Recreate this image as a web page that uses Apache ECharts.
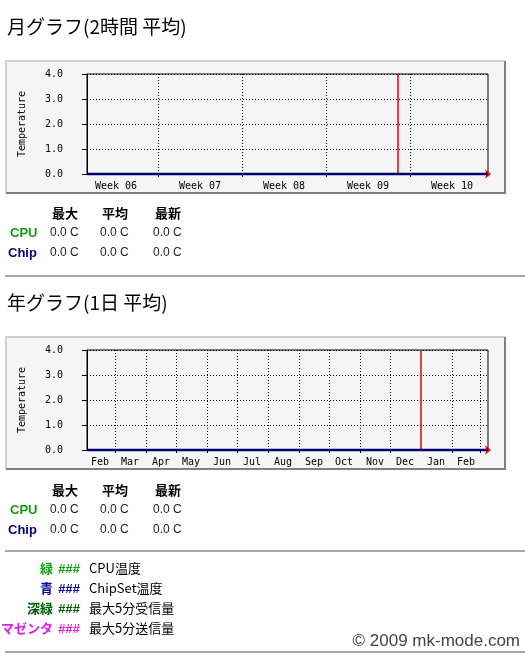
<!DOCTYPE html>
<html><head><meta charset="utf-8">
<script src="https://cdn.jsdelivr.net/npm/echarts@6/dist/echarts.min.js"></script>
<style>html,body{margin:0;padding:0;background:#fff}#c{width:525px;height:655px}</style>
</head><body><div id="c"></div><script>
// ---- data ----
const monthTitle = '月グラフ(2時間 平均)';
const yearTitle = '年グラフ(1日 平均)';
const yName = 'Temperature';
const yMin = 0, yMax = 4, yStep = 1;

// monthly graph: x in hours relative to the red (month start) line
const monthRange = [-622, 180];
const weekBoundaries = [-480, -312, -144, 24];
const weekLabelPos = [-564, -396, -228, -60, 108];
const weekLabels = ['Week 06', 'Week 07', 'Week 08', 'Week 09', 'Week 10'];
const monthRedLine = 0;
const monthTimes = [-622, -480, -312, -144, 0, 180];
const cpuMonth = [0.0, 0.0, 0.0, 0.0, 0.0, 0.0];
const chipMonth = [0.0, 0.0, 0.0, 0.0, 0.0, 0.0];

// yearly graph: x in days relative to the red (year start) line
const yearRange = [-334, 67];
const monthBoundaries = [-306, -275, -245, -214, -184, -153, -122, -92, -61, -31, 31, 59];
const monthLabelPos = [-321, -291, -260, -230, -199, -169, -138, -107, -77, -46, -16, 15, 45];
const monthLabels = ['Feb', 'Mar', 'Apr', 'May', 'Jun', 'Jul', 'Aug', 'Sep', 'Oct', 'Nov', 'Dec', 'Jan', 'Feb'];
const yearRedLine = 0;
const yearDays = [-334, -184, -31, 0, 67];
const cpuYear = [0.0, 0.0, 0.0, 0.0, 0.0];
const chipYear = [0.0, 0.0, 0.0, 0.0, 0.0];

// stats tables
const statHeaders = ['最大', '平均', '最新'];
const statRows = ['CPU', 'Chip'];
const monthStats = [['0.0 C', '0.0 C', '0.0 C'], ['0.0 C', '0.0 C', '0.0 C']];
const yearStats = [['0.0 C', '0.0 C', '0.0 C'], ['0.0 C', '0.0 C', '0.0 C']];

// colour legend
const legendNames = ['緑', '青', '深緑', 'マゼンタ'];
const legendDescs = ['CPU温度', 'ChipSet温度', '最大5分受信量', '最大5分送信量'];
const copyright = '© 2009 mk-mode.com';

// ---- styles ----
const cpuColor = '#109a10';
const chipColor = '#000070';
const legendColors = ['#10a010', '#0000a0', '#006000', '#e020e0'];
const rowColors = [cpuColor, '#000080'];
const mono = 'DejaVu Sans Mono';
const jp = '"Noto Sans CJK JP"';
const sans = '"Liberation Sans", Arial';

const chart = echarts.init(document.getElementById('c'), null, {renderer: 'canvas'});

function pairs(xs, ys) { return xs.map((x, i) => [x, ys[i]]); }

function xAxisFor(gi, range, ticks, labelPos, labels) {
  return {
    type: 'value', gridIndex: gi, min: range[0], max: range[1],
    axisLine: {show: true, onZero: false, lineStyle: {color: '#ff0000', width: 1},
      symbol: ['none', 'arrow'], symbolSize: [7, 6], symbolOffset: [0, 3]},
    axisTick: {show: true, length: 3, customValues: ticks, lineStyle: {color: '#000'}},
    axisLabel: {show: true, customValues: labelPos, margin: 7,
      fontFamily: mono, fontSize: 10, color: '#000',
      formatter: v => labels[labelPos.indexOf(v)] || ''},
    splitLine: {show: true, lineStyle: {color: '#000', type: [1, 2], width: 1}}
  };
}
function yAxisFor(gi) {
  return {
    type: 'value', gridIndex: gi, min: yMin, max: yMax, interval: yStep, position: 'left',
    name: yName, nameLocation: 'middle', nameRotate: 90, nameGap: 60,
    nameTextStyle: {fontFamily: mono, fontSize: 10, color: '#000'},
    axisLine: {show: true, onZero: false, lineStyle: {color: '#000'}},
    axisTick: {show: true, length: 5, lineStyle: {color: '#000'}},
    axisLabel: {margin: 24, fontFamily: mono, fontSize: 10, color: '#000',
      formatter: v => v.toFixed(1)},
    splitLine: {show: true, lineStyle: {color: '#000', type: [1, 2], width: 1}}
  };
}
function seriesFor(ai, xs, cpu, chip, red) {
  return [{
    type: 'line', xAxisIndex: ai, yAxisIndex: ai, data: [[red, yMin], [red, yMax]],
    showSymbol: false, clip: false, silent: true, lineStyle: {color: '#ee0000', width: 1.5}, z: 5
  }, {
    type: 'line', xAxisIndex: ai, yAxisIndex: ai, data: pairs(xs, cpu),
    showSymbol: false, clip: false, lineStyle: {color: cpuColor, width: 2}, z: 6
  }, {
    type: 'line', xAxisIndex: ai, yAxisIndex: ai, data: pairs(xs, chip),
    showSymbol: false, clip: false, lineStyle: {color: chipColor, width: 2.5}, z: 7
  }];
}

const g = [];
function txt(text, x, y, font, fill, align) {
  g.push({type: 'text', z: 10, style: {text, x, y, font, fill,
    textAlign: align || 'left', align: align || 'left',
    textVerticalAlign: 'middle', verticalAlign: 'middle'}});
}
function hr(y) {
  g.push({type: 'rect', z: 1, shape: {x: 5, y: y, width: 520, height: 2}, style: {fill: '#a8a8a8'}});
}
function box(top) {
  const l = 5, r = 505, b = top + 133;
  g.push({type: 'rect', z: -5, shape: {x: l, y: top, width: r - l, height: b - top}, style: {fill: '#f5f5f5'}});
  g.push({type: 'polyline', z: -4, shape: {points: [[l + 1, b], [l + 1, top + 1], [r, top + 1]]},
    style: {stroke: '#d0d0d0', lineWidth: 2, fill: null}});
  g.push({type: 'polyline', z: -4, shape: {points: [[l + 1, b], [r, b], [r, top + 1]]},
    style: {stroke: '#808080', lineWidth: 2, fill: null}});
}
function table(top, stats) {
  const cols = [52, 102, 155];
  statHeaders.forEach((h, i) => txt(h, cols[i], top, 'bold 13px ' + jp, '#000'));
  statRows.forEach((r, ri) => {
    const y = top + 20 * (ri + 1);
    txt(r, ri === 0 ? 10 : 8, y, 'bold 13px ' + sans, rowColors[ri]);
    stats[ri].forEach((s, ci) => txt(s, cols[ci] - 2, y, '12px ' + sans, '#222'));
  });
}

txt(monthTitle, 7, 27, '19px ' + jp, '#000');
box(60);
table(213, monthStats);
hr(275);
txt(yearTitle, 7, 303, '19px ' + jp, '#000');
box(336);
table(490, yearStats);
hr(550);
legendNames.forEach((n, i) => {
  const y = 568 + 20 * i;
  txt(n, 53, y, 'bold 13px ' + jp, legendColors[i], 'right');
  txt('###', 58, y + 1.5, 'italic bold 13px ' + sans, legendColors[i]);
  txt(legendDescs[i], 89, y, '13px ' + jp, '#000');
});
hr(651);
txt(copyright, 520, 641, '17px ' + sans, '#444', 'right');

chart.setOption({
  backgroundColor: '#ffffff',
  animation: false,
  grid: [
    {left: 87, top: 74, width: 401, height: 100, show: true, borderColor: '#000', borderWidth: 1, backgroundColor: 'transparent'},
    {left: 87, top: 350, width: 401, height: 100, show: true, borderColor: '#000', borderWidth: 1, backgroundColor: 'transparent'}
  ],
  xAxis: [
    xAxisFor(0, monthRange, weekBoundaries, weekLabelPos, weekLabels),
    xAxisFor(1, yearRange, monthBoundaries, monthLabelPos, monthLabels)
  ],
  yAxis: [yAxisFor(0), yAxisFor(1)],
  series: [
    ...seriesFor(0, monthTimes, cpuMonth, chipMonth, monthRedLine),
    ...seriesFor(1, yearDays, cpuYear, chipYear, yearRedLine)
  ],
  graphic: {elements: g}
});
</script></body></html>
